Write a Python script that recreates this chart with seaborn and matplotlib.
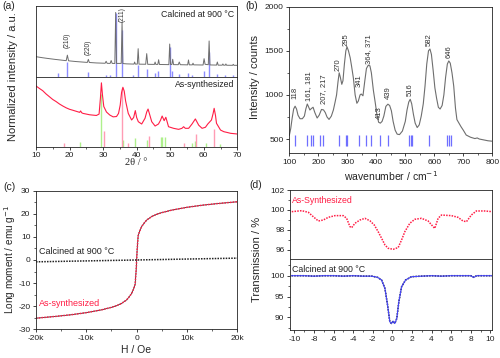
import matplotlib
matplotlib.use("Agg")
import matplotlib.pyplot as plt
import seaborn as sns

# ---- (a) XRD -------------------------------------------------------------
xrd_calc_2theta = [10, 12, 14, 16, 18, 19.0, 19.35, 19.7, 22, 25.3, 25.6, 25.9, 28, 30.6, 30.9, 31.2,
                   32.1, 32.4, 32.7, 33.5, 33.75, 34.0, 35.4, 35.65, 35.9, 37, 39.2, 39.4, 39.6, 40.2,
                   40.45, 40.7, 42.7, 43.0, 43.3, 45.3, 45.5, 45.7, 46.3, 46.55, 46.8, 49.6, 49.85, 50.1,
                   50.5, 50.75, 51.0, 52.4, 52.7, 53.0, 55.2, 55.45, 55.7, 56.6, 56.8, 57.0, 59.8, 60.1,
                   60.4, 61.35, 61.6, 61.85, 63.8, 64.05, 64.3, 65.5, 65.7, 65.9, 66.4, 66.6, 66.8, 68.6,
                   68.8, 69.0, 70]
xrd_calc_int = [27, 25.6, 24.4, 23.3, 22.3, 21.8, 29, 21.6, 20.6, 19.5, 23.5, 19.4, 18.8, 18.4, 21, 18.3,
                18.2, 22, 18.2, 18.1, 85, 18.2, 18.2, 72, 18, 17.6, 17.3, 20, 17.3, 17.3,
                37.5, 17.2, 17.1, 31, 17, 16.9, 20, 16.9, 16.9, 23, 16.8, 16.6, 43.6, 16.8,
                16.8, 23.6, 16.6, 16.5, 20, 16.5, 16.3, 22.7, 16.3, 16.3, 18.5, 16.3, 16.1, 24.4,
                17, 16.5, 47.6, 16.2, 16.0, 20, 15.9, 15.9, 17.5, 15.9, 15.8, 17.5, 15.8, 15.7,
                17, 15.7, 15.7]
ref_blue_pos = [16.6, 19.3, 25.6, 30.9, 32.1, 33.7, 35.6, 38.9, 40.4, 43.0, 45.4, 46.5, 49.8, 50.6,
                52.6, 55.4, 56.6, 60.0, 61.5, 64.0, 66.2, 68.8]
ref_blue_h = [5, 20, 7, 3, 3, 84, 62, 3, 16, 11, 5, 8, 40, 8, 4, 5, 3, 8, 33, 4, 3, 3]

xrd_syn_2theta = [10, 11, 12, 13, 14, 15, 16, 17, 18, 19, 20, 21, 22, 23, 23.3, 23.6, 24, 25, 26, 27, 28,
                  28.8, 29.2, 29.5, 29.8, 30.2, 31, 32, 33, 34, 34.6, 35.1, 35.5, 35.9, 36.3, 36.7, 37.5,
                  38.5, 39.1, 39.6, 40.0, 40.5, 41.5, 42.5, 43.0, 43.4, 43.9, 44.5, 45.5, 46.5, 47.1,
                  47.6, 48.2, 48.7, 49.2, 49.5, 51, 52.5, 53.5, 54, 54.5, 55.5, 56.5, 57.5, 58.5, 59.5,
                  60.5, 61.2, 62.3, 62.8, 63.1, 63.5, 63.8, 65, 66, 67, 68, 69, 70]
xrd_syn_int = [87.5, 84, 80.7, 76, 72, 68, 65, 61.5, 58.6, 56, 53.9, 52.5, 51, 49.5, 51.5, 49, 48, 47, 46,
               45.5, 45, 47, 70, 92, 75, 58, 50, 45.6, 43, 43.5, 48, 60, 78, 85.6, 80, 66, 48,
               38.5, 42, 52, 42, 36, 32.7, 41, 50, 54.3, 46, 36, 29.8, 32.7, 38,
               44.2, 37.5, 42.4, 34, 28.8, 26.5, 25, 26.5, 28.8, 26.5, 26.5, 32.7, 40, 31, 26.5,
               28, 32.7, 38.5, 48, 55.3, 45, 33.7, 24, 21.6, 20.5, 19.3, 18.8, 18.3]
ref_green_pos = [23.0, 29.3, 36.0, 39.4, 43.2, 47.2, 47.7, 48.5, 56.6, 57.5, 60.6, 64.7]
ref_green_h = [7, 76, 9, 13, 10, 14, 14, 14, 5, 8, 5, 4]
ref_pink_pos = [18.3, 30.4, 35.7, 37.4, 43.6, 54.0, 57.6, 63.1]
ref_pink_h = [6, 22, 84, 5, 15, 5, 19, 26]

hkl_labels = ["(210)", "(220)", "(211)"]
hkl_pos = [19.35, 25.6, 35.55]
hkl_y = [39, 29, 73]

# ---- (b) Raman -----------------------------------------------------------
raman_wn = [100, 105, 110, 115, 120, 125, 130, 137, 145, 152, 157, 162, 167, 171, 176, 182, 188, 196,
            203, 211, 218, 224, 230, 237, 245, 252, 258, 263, 268, 272, 276, 281, 285, 290, 295, 299,
            304, 310, 315, 321, 327, 333, 338, 344, 348, 354, 360, 366, 372, 378, 383, 390, 396, 402,
            408, 414, 420, 426, 433, 440, 446, 452, 458, 465, 472, 480, 490, 500, 506, 512, 517, 522,
            528, 534, 541, 548, 555, 562, 568, 574, 580, 585, 590, 596, 602, 608, 614, 620, 627, 633,
            639, 645, 650, 655, 661, 667, 673, 678, 685, 692, 700, 710, 725, 740, 748, 755, 770, 785, 800]
raman_int = [540, 620, 740, 840, 872, 840, 770, 730, 730, 760, 840, 897, 860, 829, 845, 860, 800, 738,
             770, 835, 830, 800, 750, 722, 760, 829, 920, 1000, 1150, 1250, 1200, 1120, 1160, 1350, 1500, 1545,
             1500, 1420, 1320, 1190, 1000, 905, 930, 1000, 1010, 990, 1150, 1300, 1335, 1330, 1250, 1050, 920, 780,
             690, 680, 700, 760, 870, 895, 880, 820, 700, 600, 555, 550, 590, 700, 830, 920, 950, 900,
             780, 680, 630, 660, 760, 900, 1100, 1350, 1500, 1520, 1460, 1280, 1080, 960, 860, 840, 880, 1000,
             1200, 1350, 1385, 1360, 1250, 1100, 850, 720, 680, 640, 600, 545, 520, 505, 512, 500, 490, 480, 475]
raman_ref = [118, 161, 175, 181, 207, 217, 270, 295, 300, 341, 364, 381, 413, 439, 514, 519, 524,
             582, 644, 650, 656]
raman_labels = ["118", "161, 181", "207, 217", "270", "295", "341", "364, 371", "413", "439",
                "516", "582", "646"]
raman_label_x = [120, 165, 218, 268, 297, 342, 374, 412, 440, 516, 584, 650]
raman_label_y = [950, 930, 900, 1270, 1560, 1090, 1350, 730, 950, 990, 1560, 1420]

# ---- (c) magnetisation ---------------------------------------------------
field_syn = [-20000, -16000, -13000, -10000, -7000, -5000, -4000, -3000, -2000, -1500, -1000, -600,
             -300, -100, 0, 100, 300, 600, 1000, 1500, 2000, 3000, 4000, 5000, 7000, 10000, 13000,
             16000, 20000]
moment_syn = [-25.2, -24.4, -23.7, -22.8, -21.6, -20.5, -19.8, -18.8, -17.3, -16, -14.5, -12.5,
              -10.5, -4.5, 0, 4.5, 10.5, 12.5, 14.5, 16, 17.3, 18.8, 19.8, 20.5, 21.6, 22.8, 23.7,
              24.4, 25.2]
field_calc = [-20000, 0, 20000]
moment_calc = [-0.8, 0, 0.8]
field_ticks = [-20000, -10000, 0, 10000, 20000]
field_ticklabels = ["-20k", "-10k", "0", "10k", "20k"]

# ---- (d) Mossbauer -------------------------------------------------------
v_syn = [-10.27, -9.25, -8.57, -8.06, -7.56, -7.05, -6.54, -5.86, -5.01, -4.67, -4.33, -4.16, -3.82,
         -3.31, -2.8, -2.29, -1.85, -1.45, -1.1, -0.76, -0.43, 0.08, 0.59, 0.94, 1.27, 1.78, 2.29,
         2.97, 3.65, 4.16, 4.33, 4.67, 5.01, 6.03, 6.7, 7.21, 7.56, 8.06, 8.57, 9.42, 10.2]
t_syn = [99.82, 99.92, 99.75, 99.3, 98.88, 98.98, 99.25, 99.42, 99.42, 99.15, 98.31, 98.2, 98.65,
         98.98, 99.15, 98.9, 98.48, 97.8, 97.14, 96.47, 96.13, 96.03, 96.2, 96.97, 97.8, 98.65, 99.05,
         99.15, 98.88, 98.31, 98.14, 99.15, 99.48, 99.42, 99.25, 98.88, 98.81, 99.48, 99.89, 99.89, 99.82]
v_calc = [-10.3, -9, -8, -7, -6, -5, -4, -3, -2.1, -1.5, -1.1, -0.76, -0.49, -0.26, -0.09, 0.08, 0.25,
          0.45, 0.66, 0.94, 1.34, 1.95, 3, 4, 5, 6, 7, 8, 8.3, 8.6, 9, 10.2]
t_calc = [100, 100, 99.9, 100, 100, 99.9, 100, 99.9, 99.9, 99.6, 98.96, 96.96, 92.96, 88.96, 88.56,
          89.12, 88.56, 89.76, 93.76, 97.36, 98.96, 99.76, 99.9, 100, 99.9, 100, 100, 100, 99.6, 100,
          100, 100]

# ---- style ---------------------------------------------------------------
sns.set_style("ticks")
plt.rcParams["font.family"] = ["Liberation Sans", "DejaVu Sans"]
plt.rcParams["axes.unicode_minus"] = False
plt.rcParams["axes.linewidth"] = 0.6
plt.rcParams["axes.edgecolor"] = "#222222"
for k in ["xtick", "ytick"]:
    plt.rcParams[k + ".major.size"] = 2.5
    plt.rcParams[k + ".minor.size"] = 1.5
    plt.rcParams[k + ".major.width"] = 0.6
    plt.rcParams[k + ".minor.width"] = 0.5
    plt.rcParams[k + ".labelsize"] = 6
    plt.rcParams[k + ".major.pad"] = 1.5
    plt.rcParams[k + ".color"] = "#222222"

GRAY = "#6e6e6e"
RED = "#ff1e46"
BLUE_STICK = "#8c8cff"
DOTS = (0, (1, 0.8))

fig = plt.figure(figsize=(5, 3.58), dpi=100)

ax_a1 = fig.add_axes([0.072, 0.7841, 0.4026, 0.1978])
ax_a2 = fig.add_axes([0.072, 0.5902, 0.4026, 0.1939])
ax_b = fig.add_axes([0.5786, 0.5718, 0.406, 0.4095])
ax_c = fig.add_axes([0.072, 0.0802, 0.4026, 0.3872])
ax_d1 = fig.add_axes([0.58, 0.2765, 0.4046, 0.1927])
ax_d2 = fig.add_axes([0.58, 0.0782, 0.4046, 0.1983])

# (a) top: calcined
ax_a1.vlines(ref_blue_pos, 0, ref_blue_h, colors=BLUE_STICK, lw=1.0)
sns.lineplot(x=xrd_calc_2theta, y=xrd_calc_int, ax=ax_a1, color=GRAY, lw=0.7,
             estimator=None, sort=False)
ax_a1.set_xlim(10, 70)
ax_a1.set_ylim(0, 92.8)
ax_a1.set_xticks([])
ax_a1.set_yticks([])
ax_a1.text(0.985, 0.89, "Calcined at 900 °C", transform=ax_a1.transAxes, ha="right", va="center",
           fontsize=6.3, color="#222222")
for lab, x, y in zip(hkl_labels, hkl_pos, hkl_y):
    ax_a1.text(x, y, lab, rotation=90, ha="center", va="bottom", fontsize=4.8, color="#333333")

# (a) bottom: as-synthesized
ax_a2.vlines(ref_green_pos, 0, ref_green_h, colors="#aef08c", lw=1.0)
ax_a2.vlines(ref_pink_pos, 0, ref_pink_h, colors="#ff9cb4", lw=1.0)
sns.lineplot(x=xrd_syn_2theta, y=xrd_syn_int, ax=ax_a2, color=RED, lw=0.8,
             estimator=None, sort=False)
ax_a2.set_xlim(10, 70)
ax_a2.set_ylim(0, 100)
ax_a2.set_yticks([])
ax_a2.set_xticks(range(10, 71, 10))
ax_a2.set_xticks(range(15, 70, 10), minor=True)
ax_a2.text(0.985, 0.89, "As-synthesized", transform=ax_a2.transAxes, ha="right", va="center",
           fontsize=6.3, color="#222222")
fig.text(0.273, 0.545, "2θ / °", ha="center", va="center", fontsize=7.5,
         family=["Liberation Serif", "DejaVu Serif"])
fig.text(0.026, 0.786, "Normalized intensity / a.u.", rotation=90, ha="center", va="center",
         fontsize=8)

# (b) Raman
ax_b.vlines(raman_ref, 425, 540, colors="#6f6fff", lw=0.9)
sns.lineplot(x=raman_wn, y=raman_int, ax=ax_b, color=GRAY, lw=0.8, estimator=None, sort=False)
for lab, x, y in zip(raman_labels, raman_label_x, raman_label_y):
    ax_b.text(x, y, lab, rotation=90, ha="center", va="bottom", fontsize=5.5, color="#333333")
ax_b.set_xlim(100, 800)
ax_b.set_ylim(338, 2000)
ax_b.set_xticks(range(100, 801, 100))
ax_b.set_xticks(range(150, 800, 100), minor=True)
ax_b.set_yticks([500, 1000, 1500, 2000])
ax_b.set_yticks([750, 1250, 1750], minor=True)
fig.text(0.782, 0.508, "wavenumber / cm$^{-1}$", ha="center", va="center", fontsize=7.5)
fig.text(0.51, 0.785, "Intensity / counts", rotation=90, ha="center", va="center", fontsize=8)

# (c) magnetisation
sns.lineplot(x=field_syn, y=moment_syn, ax=ax_c, color="#333333", lw=0.6, estimator=None, sort=False)
sns.lineplot(x=field_syn, y=moment_syn, ax=ax_c, color=RED, lw=1.1, linestyle=DOTS,
             estimator=None, sort=False)
sns.lineplot(x=field_calc, y=moment_calc, ax=ax_c, color="#222222", lw=1.1, linestyle=DOTS,
             estimator=None, sort=False)
ax_c.set_xlim(-20000, 20000)
ax_c.set_ylim(-30, 30)
ax_c.set_xticks(field_ticks)
ax_c.set_xticklabels(field_ticklabels)
ax_c.set_xticks([-15000, -5000, 5000, 15000], minor=True)
ax_c.set_yticks(range(-30, 31, 10))
ax_c.set_yticks(range(-25, 30, 10), minor=True)
ax_c.text(-19400, 3.6, "Calcined at 900 °C", ha="left", va="center", fontsize=6.5, color="#222222")
ax_c.text(-19400, -18.8, "As-synthesized", ha="left", va="center", fontsize=6.5, color=RED)
fig.text(0.273, 0.022, "H / Oe", ha="center", va="center", fontsize=7.5)
fig.text(0.02, 0.275, "Long moment / emu g$^{-1}$", rotation=90, ha="center", va="center",
         fontsize=7.2)

# (d) Mossbauer top
sns.lineplot(x=v_syn, y=t_syn, ax=ax_d1, color=RED, lw=1.1, linestyle=DOTS,
             estimator=None, sort=False)
ax_d1.set_xlim(-10.45, 10.2)
ax_d1.set_ylim(95.05, 102)
ax_d1.set_yticks([96, 98, 100, 102])
ax_d1.set_yticks([97, 99, 101], minor=True)
ax_d1.set_xticks([])
ax_d1.text(-10.2, 100.9, "As-Synthesized", ha="left", va="center", fontsize=6.3, color=RED)

# (d) Mossbauer bottom
sns.lineplot(x=v_calc, y=t_calc, ax=ax_d2, color="#111111", lw=1.1, linestyle=DOTS,
             estimator=None, sort=False)
sns.lineplot(x=v_calc, y=t_calc, ax=ax_d2, color="#4646ff", lw=0.8, estimator=None, sort=False)
ax_d2.set_xlim(-10.45, 10.2)
ax_d2.set_ylim(87, 104)
ax_d2.set_yticks([90, 95, 100])
ax_d2.set_yticks([87.5, 92.5, 97.5, 102.5], minor=True)
ax_d2.set_xticks(range(-10, 11, 2))
ax_d2.set_xticks(range(-9, 10, 2), minor=True)
ax_d2.text(-10.2, 101.6, "Calcined at 900 °C", ha="left", va="center", fontsize=6.3, color="#222222")
fig.text(0.513, 0.274, "Transmission / %", rotation=90, ha="center", va="center", fontsize=8)

for ax in [ax_a1, ax_a2, ax_b, ax_c, ax_d1, ax_d2]:
    ax.set_xlabel("")
    ax.set_ylabel("")
    for s in ax.spines.values():
        s.set_visible(True)

# panel letters
fig.text(0.004, 0.983, "(a)", ha="left", va="center", fontsize=7.5)
fig.text(0.49, 0.983, "(b)", ha="left", va="center", fontsize=7.5)
fig.text(0.006, 0.478, "(c)", ha="left", va="center", fontsize=7.5)
fig.text(0.498, 0.483, "(d)", ha="left", va="center", fontsize=7.5)

fig.savefig("out.png", dpi=100)
